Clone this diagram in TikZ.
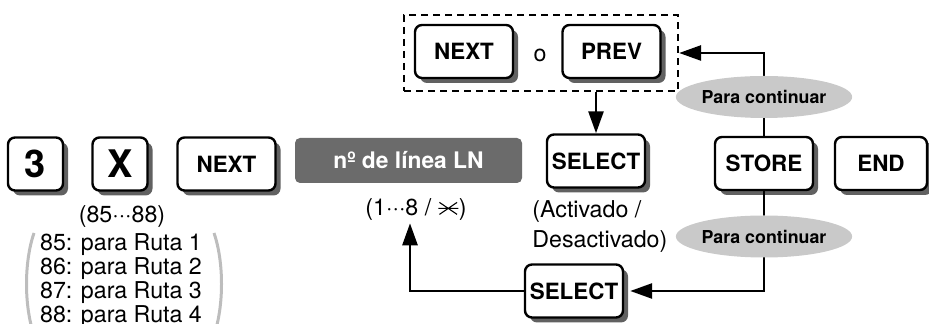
\documentclass[tikz,border=0pt]{standalone}
\usepackage{fontspec}
\setmainfont{TeX Gyre Heros}
\usetikzlibrary{positioning,shapes.geometric,shadows,arrows.meta,fit}
\definecolor{keyshade}{gray}{0.38}
\definecolor{lngray}{gray}{0.42}
\definecolor{contgray}{gray}{0.79}
\definecolor{parengray}{gray}{0.74}
\newcommand{\lnstar}{\tikz[x=1pt, y=1pt, line width=0.55pt, baseline=-3.8pt]
  {\draw (-5,0) -- (5,0) (-4.4,-3) -- (4.4,3) (-4.4,3) -- (4.4,-3);}}

\tikzset{
  key/.style={draw, line width=1.2pt, rounded corners=3.5pt, fill=white,
    font=\bfseries\fontsize{11.2}{12}\selectfont,
    minimum width=49pt, minimum height=26.5pt, inner sep=1pt,
    drop shadow={shadow xshift=2.5pt, shadow yshift=-2.5pt, fill=keyshade, opacity=1}},
  bigkey/.style={key, minimum width=27.5pt, font=\bfseries\fontsize{19}{20}\selectfont},
  lnbox/.style={fill=lngray, rounded corners=2.5pt, text=white,
    font=\bfseries\fontsize{11.4}{12}\selectfont,
    minimum width=113.5pt, minimum height=22.5pt},
  contlabel/.style={ellipse, fill=contgray, inner sep=0pt,
    font=\bfseries\fontsize{8.9}{10}\selectfont,
    minimum width=71pt, minimum height=21pt},
  choicebox/.style={draw, line width=1.1pt, dash pattern=on 3.5pt off 2.5pt,
    minimum width=137pt, minimum height=38pt},
  note/.style={font=\fontsize{11.6}{15}\selectfont, inner sep=1pt},
  flow/.style={line width=1.3pt, -{Triangle[length=11pt,width=7.5pt]}},
  paren/.style={parengray, line width=1.5pt}
}

\begin{document}
\begin{tikzpicture}[x=0.5pt, y=-0.5pt]
  \useasboundingbox (0,0) rectangle (929,324);

  \node[bigkey] (three) at (35.5,164) {3};
  \node[bigkey] (x) at (120,164) {X};
  \node[key] (next) at (226.5,164) {NEXT};
  \node[lnbox] (ln) at (408.5,160.5) {nº de línea LN};
  \node[note] (range) at (416,210) {(1···8 / \lnstar)};

  \node[note] (codes) at (122,217) {(85···88)};
  \node[note, align=left, inner sep=0pt, font=\fontsize{11.6}{12}\selectfont] (routes) at (121,281)
    {85: para Ruta 1\\86: para Ruta 2\\87: para Ruta 3\\88: para Ruta 4};
  \draw[paren] (34,233) .. controls (24,262) and (24,306) .. (34,335);
  \draw[paren] (214,233) .. controls (224,262) and (224,306) .. (214,335);

  \node[key] (nextb) at (464,51.5) {NEXT};
  \node[note] (or) at (540,55) {o};
  \node[key] (prevb) at (611.5,51.5) {PREV};
  \node[choicebox] (choice) at (541,53) {};

  \node[key] (sela) at (596,161) {SELECT};
  \node[note, align=left, anchor=west, inner sep=0pt] (state) at (532,227)
    {(Activado /\\Desactivado)};

  \node[key] (store) at (764,163.5) {STORE};
  \node[key, minimum width=46pt] (end) at (881,163.5) {END};
  \node[key] (selb) at (574,291) {SELECT};

  \draw[flow] (store.north) |- (choice.east);
  \draw[flow, shorten >=3pt] (store.south) |- (selb.east);
  \draw[flow] (sela.north |- choice.south) -- (sela.north);
  \draw[flow] (selb.west) -| ([xshift=-3pt]range.south);

  \node[contlabel] (conta) at (764,97) {Para continuar};
  \node[contlabel] (contb) at (764,236.5) {Para continuar};
\end{tikzpicture}
\end{document}
